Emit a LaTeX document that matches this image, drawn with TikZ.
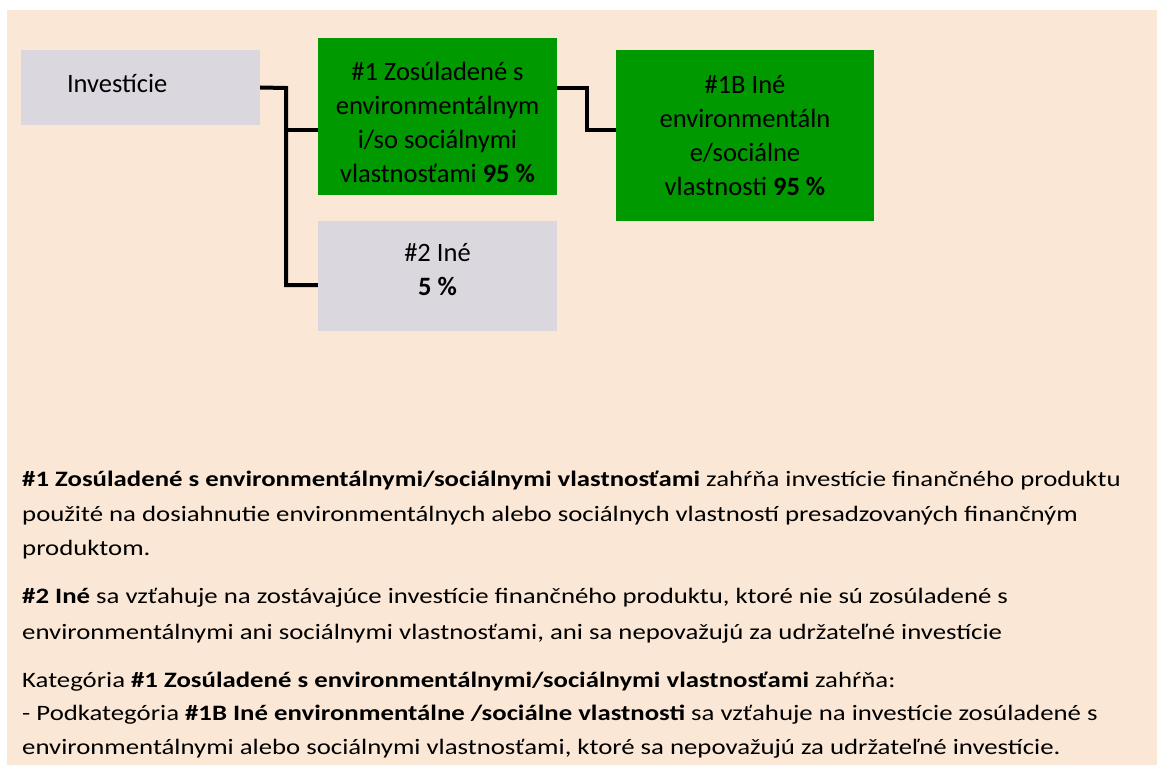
\documentclass[tikz,border=0pt]{standalone}
\usepackage{fontspec}
\setmainfont{Carlito}
\newfontfamily\bodyfont[FakeStretch=1.217]{Carlito}
\definecolor{peach}{RGB}{250,231,213}
\definecolor{boxgray}{RGB}{218,216,222}
\definecolor{boxgreen}{RGB}{0,153,0}
\begin{document}
\begin{tikzpicture}[x=1pt,y=-1pt,
  boxtext/.style={inner sep=0pt, font=\fontsize{26.5}{34}\selectfont, align=center},
  box/.style={rectangle, inner sep=0pt},
  graybox/.style={box, fill=boxgray},
  greenbox/.style={box, fill=boxgreen},
  conn/.style={line width=4pt, black, line join=miter},
  body/.style={anchor=base west, inner sep=0pt, font=\bodyfont\fontsize{22}{34}\selectfont}]
\path[use as bounding box, fill=white] (0,0) rectangle (1157,765);
\fill[peach] (7,10) rectangle (1157,765);
% boxes
\node[graybox, minimum width=239pt, minimum height=75pt,
  label={[boxtext, text width=147pt, align=left, yshift=4pt]center:Investície}] (inv) at (140.5,87.5) {};
\node[greenbox, minimum width=239pt, minimum height=157pt,
  label={[boxtext, yshift=-5.5pt]center:{\#1 Zosúladené s\\environmentálnym\\i/so sociálnymi\\vlastnosťami \textbf{95 \%}}}] (g1) at (437.5,116.5) {};
\node[greenbox, minimum width=258pt, minimum height=171pt,
  label={[boxtext, yshift=0pt]center:{\#1B Iné\\environmentáln\\e/sociálne\\vlastnosti \textbf{95 \%}}}] (g1b) at (745,135.5) {};
\node[graybox, minimum width=239pt, minimum height=110pt,
  label={[boxtext, yshift=6pt]center:{\#2 Iné\\\textbf{5 \%}}}] (o2) at (437.5,276) {};
% connectors
\coordinate (j1) at (286,88);
\coordinate (j2) at (587,88);
\draw[conn] (inv.east) -- (j1) |- ([yshift=-9pt]o2.west);
\draw[conn] (j1 |- 0,130) -- ([yshift=-13.5pt]g1.west);
\draw[conn] ([yshift=28.5pt]g1.east) -- (j2) |- ([yshift=5.5pt]g1b.west);
% body text
\node[body] (t1) at (22,486) {\textbf{\#1 Zosúladené s environmentálnymi/sociálnymi vlastnosťami} zahŕňa investície finančného produktu};
\node[body] (t2) at (22,521) {použité na dosiahnutie environmentálnych alebo sociálnych vlastností presadzovaných finančným};
\node[body] (t3) at (22,555) {produktom.};
\node[body] (t4) at (22,603) {\textbf{\#2 Iné} sa vzťahuje na zostávajúce investície finančného produktu, ktoré nie sú zosúladené s};
\node[body] (t5) at (22,639) {environmentálnymi ani sociálnymi vlastnosťami, ani sa nepovažujú za udržateľné investície};
\node[body] (t6) at (22,687) {Kategória \textbf{\#1 Zosúladené s environmentálnymi/sociálnymi vlastnosťami} zahŕňa:};
\node[body] (t7) at (22,720) {- Podkategória \textbf{\#1B Iné environmentálne /sociálne vlastnosti} sa vzťahuje na investície zosúladené s};
\node[body] (t8) at (22,754) {environmentálnymi alebo sociálnymi vlastnosťami, ktoré sa nepovažujú za udržateľné investície.};
\end{tikzpicture}
\end{document}
